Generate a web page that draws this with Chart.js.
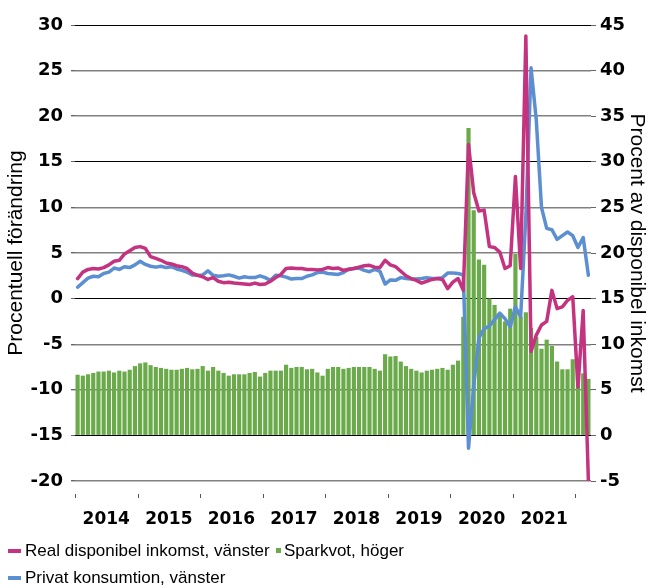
<!DOCTYPE html>
<html><head><meta charset="utf-8">
<script src="https://cdn.jsdelivr.net/npm/chart.js@4.4.1/dist/chart.umd.min.js"></script>
<style>
html,body{margin:0;padding:0;background:#fff;}
#wrap{position:relative;width:649px;height:588px;overflow:hidden;background:#fff;}
#c{position:absolute;left:0;top:0;}
.lg{position:absolute;font-family:"Liberation Sans",Arial,sans-serif;font-size:17px;color:#000;white-space:nowrap;line-height:24px;height:24px;}
.mk{position:absolute;display:block;}
</style></head><body>
<div id="wrap"><canvas id="c" width="649" height="588"></canvas><div id="legend"></div></div>
<script>
// ---- data ----
const years = [2014, 2015, 2016, 2017, 2018, 2019, 2020, 2021, 2022];
const monthCount = 99; // Jan 2014 .. Mar 2022
const categories = [];
for (const y of years) for (let m = 1; m <= 12; m++) if (categories.length < monthCount) categories.push(y + '-' + String(m).padStart(2, '0'));

const realInkomst = [
  2.2, 2.9, 3.2, 3.3, 3.25, 3.4, 3.7, 4.1, 4.2, 4.9, 5.25, 5.6,
  5.7, 5.5, 4.6, 4.4, 4.2, 3.9, 3.8, 3.6, 3.5, 3.3, 2.8, 2.55,
  2.4, 2.1, 2.3, 1.9, 1.75, 1.8, 1.7, 1.65, 1.6, 1.55, 1.7, 1.55,
  1.6, 1.9, 2.3, 2.65, 3.3, 3.35, 3.3, 3.3, 3.2, 3.2, 3.15, 3.2,
  3.4, 3.3, 3.35, 3.1, 3.2, 3.3, 3.45, 3.6, 3.65, 3.45, 3.4, 4.2,
  3.7, 3.5, 3.0, 2.5, 2.2, 2.0, 1.7, 1.9, 2.1, 2.2, 2.1, 1.1,
  1.8, 2.2, 0.9, 16.9, 11.6, 9.6, 9.7, 5.7, 5.6, 5.1, 3.3, 3.6,
  13.4, 3.3, 28.8, -5.8, -4.0, -2.9, -2.5, 0.9, -1.1, -0.9, -0.2, 0.2,
  -9.7, -1.3, -20
];
const privatKonsumtion = [
  1.25, 1.75, 2.25, 2.45, 2.4, 2.75, 2.9, 3.35, 3.2, 3.5, 3.4, 3.7,
  4.1, 3.75, 3.55, 3.45, 3.55, 3.4, 3.5, 3.25, 3.1, 2.9, 2.6, 2.55,
  2.6, 3.05, 2.55, 2.45, 2.5, 2.6, 2.45, 2.25, 2.4, 2.3, 2.3, 2.5,
  2.3, 2.0, 2.55, 2.5, 2.35, 2.15, 2.2, 2.2, 2.45, 2.6, 2.85, 2.9,
  2.75, 2.7, 2.65, 2.85, 3.25, 3.3, 3.35, 3.1, 2.95, 3.2, 3.0, 1.6,
  2.05, 2.0, 2.3, 2.2, 2.15, 2.15, 2.2, 2.3, 2.2, 2.2, 2.3, 2.8,
  2.8, 2.75, 2.6, -16.4, -9.5, -4.3, -3.3, -3.0, -2.3, -1.6, -2.2, -3.1,
  -0.9, -2.0, 9.0, 25.3, 19.6, 10.0, 7.7, 7.55, 6.5, 6.9, 7.3, 6.9,
  5.6, 6.7, 2.55
];
const sparkvot = [
  6.65, 6.55, 6.7, 6.85, 7.0, 7.0, 7.1, 6.9, 7.1, 7.0, 7.2, 7.6,
  7.9, 8.0, 7.7, 7.5, 7.4, 7.3, 7.2, 7.2, 7.3, 7.4, 7.25, 7.3,
  7.6, 7.1, 7.5, 7.1, 6.85, 6.55, 6.7, 6.7, 6.7, 6.85, 6.95, 6.45,
  6.85, 7.1, 7.1, 7.1, 7.75, 7.4, 7.5, 7.5, 7.25, 7.3, 6.9, 6.55,
  7.3, 7.5, 7.5, 7.3, 7.4, 7.5, 7.5, 7.5, 7.5, 7.3, 7.1, 8.9,
  8.65, 8.7, 8.1, 7.6, 7.3, 7.1, 6.9, 7.1, 7.2, 7.3, 7.4, 7.2,
  7.75, 8.2, 13.0, 33.7, 24.7, 19.3, 18.7, 15.0, 14.3, 13.4, 12.5, 13.9,
  19.9, 13.0, 13.5, 11.8, 10.8, 9.5, 10.5, 9.8, 8.1, 7.25, 7.25, 8.35,
  7.0, 6.8, 6.2
];
const leftTicks = { min: -20, max: 30, step: 5 };
const rightTicks = { min: -5, max: 45, step: 5 };
const seriesNames = ['Real disponibel inkomst, vänster', 'Sparkvot, höger', 'Privat konsumtion, vänster'];
const leftTitle = 'Procentuell förändring';
const rightTitle = 'Procent av disponibel inkomst';

// ---- styles ----
const MAGENTA = '#C4337F';
const GREEN = '#6AAA4A';
const BLUE = '#5B8FD1';
const tickFont = { family: '"DejaVu Sans", sans-serif', weight: 'bold', size: 18 };
const titleFont = { family: '"Liberation Sans", Arial, sans-serif', size: 21 };

const yearTicks = {
  id: 'yearTicks',
  afterDraw(chart) {
    const xs = chart.scales.x, ctx = chart.ctx;
    const half = (xs.getPixelForValue(1) - xs.getPixelForValue(0)) / 2;
    ctx.save();
    ctx.strokeStyle = '#555';
    ctx.lineWidth = 1;
    for (let k = 0; k < categories.length; k += 12) {
      const px = Math.round(xs.getPixelForValue(k) - half) + 0.5;
      ctx.beginPath();
      ctx.moveTo(px, xs.top + 13);
      ctx.lineTo(px, xs.top + 17);
      ctx.stroke();
    }
    ctx.restore();
  }
};

const chart = new Chart(document.getElementById('c'), {
  type: 'bar',
  data: {
    labels: categories,
    datasets: [
      { type: 'line', label: seriesNames[0], data: realInkomst, yAxisID: 'y', borderColor: MAGENTA, backgroundColor: MAGENTA,
        borderWidth: 3.5, pointRadius: 0, tension: 0, borderJoinStyle: 'round', borderCapStyle: 'round', order: 0 },
      { type: 'bar', label: seriesNames[1], data: sparkvot, yAxisID: 'y1', backgroundColor: GREEN, borderWidth: 0,
        barPercentage: 0.8, categoryPercentage: 1.0, order: 2 },
      { type: 'line', label: seriesNames[2], data: privatKonsumtion, yAxisID: 'y', borderColor: BLUE, backgroundColor: BLUE,
        borderWidth: 3.5, pointRadius: 0, tension: 0, borderJoinStyle: 'round', borderCapStyle: 'round', order: 1 }
    ]
  },
  options: {
    responsive: false,
    animation: false,
    layout: { padding: { top: 25, left: 0, right: 0, bottom: 0 } },
    plugins: { legend: { display: false }, tooltip: { enabled: false }, title: { display: false } },
    scales: {
      x: {
        type: 'category',
        offset: true,
        grid: { display: false },
        border: { display: false },
        ticks: {
          autoSkip: false, maxRotation: 0, minRotation: 0, padding: 20, labelOffset: -2.6,
          color: '#000', font: { family: '"DejaVu Sans", sans-serif', weight: 'bold', size: 17 },
          callback: (v, i) => (i % 12 === 6 ? categories[i].slice(0, 4) : '')
        },
        afterFit(s) { s.height = 107; }
      },
      y: {
        position: 'left',
        min: leftTicks.min, max: leftTicks.max,
        ticks: { stepSize: leftTicks.step, color: '#000', font: tickFont, padding: 8 },
        grid: {
          color: c => (c.tick && c.tick.value % 15 === 0 ? '#000' : '#808080'),
          lineWidth: c => (c.tick && c.tick.value % 15 === 0 ? 1 : 1.4),
          tickLength: 4, tickColor: '#666'
        },
        border: { display: false },
        title: { display: true, text: leftTitle, color: '#000', font: titleFont, padding: { top: 4, bottom: 0 } },
        afterFit(s) { s.width = 75; }
      },
      y1: {
        position: 'right',
        min: rightTicks.min, max: rightTicks.max,
        ticks: { stepSize: rightTicks.step, color: '#000', font: tickFont, padding: 4 },
        grid: { drawOnChartArea: false, tickLength: 5, tickColor: '#666' },
        border: { display: false },
        title: { display: true, text: rightTitle, color: '#000', font: titleFont, padding: { top: 0, bottom: 0 } },
        afterFit(s) { s.width = 58; }
      }
    }
  },
  plugins: [yearTicks]
});

// ---- HTML legend built from the chart's datasets ----
const legendSlots = [
  { left: 8, top: 539, marker: 'line', textLeft: 25 },
  { left: 276, top: 539, marker: 'box', textLeft: 284 },
  { left: 8, top: 566, marker: 'line', textLeft: 25 }
];
const legendEl = document.getElementById('legend');
chart.data.datasets.forEach((ds, i) => {
  const slot = legendSlots[i];
  const mk = document.createElement('span');
  mk.className = 'mk';
  mk.style.background = ds.type === 'bar' ? ds.backgroundColor : ds.borderColor;
  if (slot.marker === 'line') {
    mk.style.left = slot.left + 'px'; mk.style.top = (slot.top + 10) + 'px';
    mk.style.width = '13px'; mk.style.height = '4px';
  } else {
    mk.style.left = slot.left + 'px'; mk.style.top = (slot.top + 9) + 'px';
    mk.style.width = '5px'; mk.style.height = '5px';
  }
  legendEl.appendChild(mk);
  const tx = document.createElement('span');
  tx.className = 'lg';
  tx.style.left = slot.textLeft + 'px'; tx.style.top = slot.top + 'px';
  tx.textContent = ds.label;
  legendEl.appendChild(tx);
});
</script>
</body></html>
